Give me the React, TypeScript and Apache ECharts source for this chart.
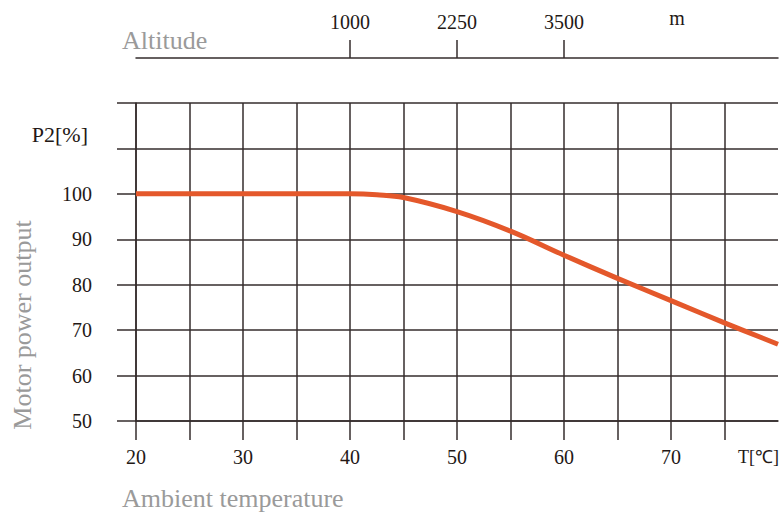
import React, { useEffect, useRef } from 'react';
import * as echarts from 'echarts';

// Ambient temperature (°C) vs motor power output P2 (%)
const temperatures = [20, 25, 30, 35, 40, 42.5, 45, 50, 55, 60, 65, 70, 75, 80];
const powerOutput = [100, 100, 100, 100, 100, 99.8, 99.2, 96.1, 91.8, 86.5, 81.4, 76.5, 71.6, 66.9];

// Axis ticks / labels
const xTickValues = [20, 25, 30, 35, 40, 45, 50, 55, 60, 65, 70, 75];
const xLabelValues = [20, 30, 40, 50, 60, 70];
const yLabelValues = [50, 60, 70, 80, 90, 100];

// Altitude scale aligned to temperature positions
const altitudePositions = [40, 50, 60];
const altitudeLabels = ['1000', '2250', '3500'];

const FONT = "'Liberation Serif', 'Times New Roman', serif";
const LINE = '#352d2d';
const GRAY = '#9a9a9a';

export default function App() {
  const ref = useRef<HTMLDivElement>(null);

  useEffect(() => {
    if (!ref.current) return;
    const chart = echarts.init(ref.current, undefined, { renderer: 'svg' });
    const lineStyle = { color: LINE, width: 1.5 };
    const option: any = {
      animation: false,
      backgroundColor: '#ffffff',
      grid: [
        { left: 136, right: 3, top: 103, bottom: 92 },
        { left: 136, right: 3, top: 58, height: 10 },
      ],
      xAxis: [
        {
          type: 'value',
          gridIndex: 0,
          min: 20,
          max: 80,
          interval: 5,
          axisLine: { show: true, onZero: false, lineStyle },
          axisTick: { show: true, length: 19, inside: false, lineStyle, customValues: xTickValues },
          splitLine: { show: true, lineStyle },
          axisLabel: {
            show: true,
            customValues: xLabelValues,
            margin: 26,
            fontFamily: FONT,
            fontSize: 20,
            color: '#231815',
          },
        },
        {
          type: 'value',
          gridIndex: 1,
          position: 'top',
          min: 20,
          max: 80,
          interval: 10,
          axisLine: { show: true, onZero: false, lineStyle },
          axisTick: { show: true, length: 18, inside: false, lineStyle, customValues: altitudePositions },
          splitLine: { show: false },
          axisLabel: {
            show: true,
            customValues: altitudePositions,
            margin: 26,
            fontFamily: FONT,
            fontSize: 20,
            color: '#231815',
            formatter: (v: number) => {
              const i = altitudePositions.indexOf(v);
              return i >= 0 ? altitudeLabels[i] : '';
            },
          },
        },
      ],
      yAxis: [
        {
          type: 'value',
          gridIndex: 0,
          min: 50,
          max: 120,
          interval: 10,
          axisLine: { show: true, onZero: false, lineStyle },
          axisTick: { show: true, length: 19, inside: false, lineStyle },
          splitLine: { show: true, lineStyle },
          axisLabel: {
            show: true,
            customValues: yLabelValues,
            margin: 44,
            fontFamily: FONT,
            fontSize: 20,
            color: '#231815',
          },
        },
        {
          type: 'value',
          gridIndex: 1,
          min: 0,
          max: 1,
          show: false,
        },
      ],
      series: [
        {
          type: 'line',
          xAxisIndex: 0,
          yAxisIndex: 0,
          data: temperatures.map((t, i) => [t, powerOutput[i]]),
          smooth: 0.4,
          symbol: 'none',
          lineStyle: { color: '#e4582b', width: 5 },
          z: 5,
        },
      ],
      graphic: [
        {
          type: 'text',
          left: 122,
          top: 27,
          style: { text: 'Altitude', font: `26px ${FONT}`, fill: GRAY },
        },
        {
          type: 'text',
          left: 122,
          top: 485,
          style: { text: 'Ambient temperature', font: `26px ${FONT}`, fill: GRAY },
        },
        {
          type: 'text',
          x: 22,
          y: 325,
          rotation: Math.PI / 2,
          style: {
            text: 'Motor power output',
            font: `26px ${FONT}`,
            fill: GRAY,
            align: 'center',
            verticalAlign: 'middle',
          },
        },
        {
          type: 'text',
          x: 88,
          y: 134,
          style: {
            text: 'P2[%]',
            font: `22px ${FONT}`,
            fill: '#231815',
            align: 'right',
            verticalAlign: 'middle',
          },
        },
        {
          type: 'text',
          x: 779,
          y: 457,
          style: {
            text: 'T[℃]',
            font: `18px ${FONT}`,
            fill: '#231815',
            align: 'right',
            verticalAlign: 'middle',
          },
        },
        {
          type: 'text',
          x: 677,
          y: 18,
          style: {
            text: 'm',
            font: `20px ${FONT}`,
            fill: '#231815',
            align: 'center',
            verticalAlign: 'middle',
          },
        },
      ],
    };
    chart.setOption(option);
    return () => chart.dispose();
  }, []);

  return (
    <div
      ref={ref}
      style={{ position: 'fixed', left: 0, top: 0, width: 781, height: 513 }}
    />
  );
}
